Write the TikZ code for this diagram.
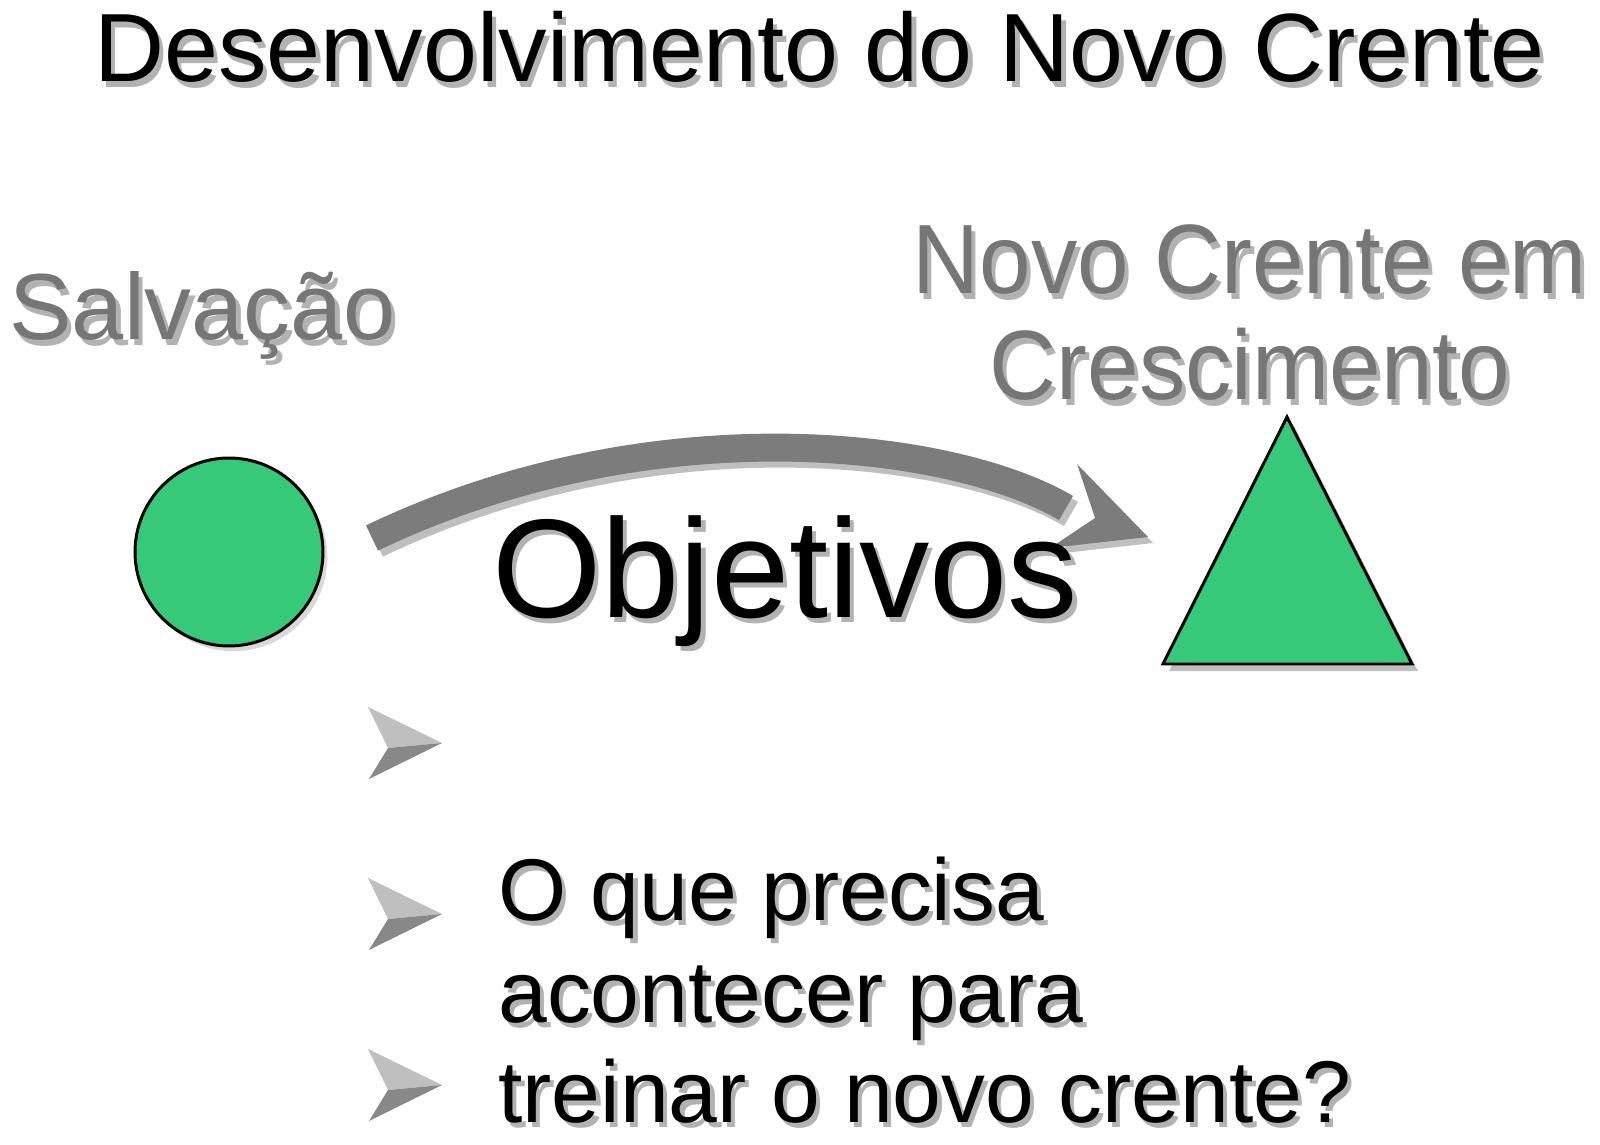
\documentclass[tikz,border=0pt]{standalone}
\usepackage{fontspec}
\setmainfont{Liberation Sans}
\usetikzlibrary{calc, shadows}

\definecolor{verde}{RGB}{55,201,122}
\definecolor{cinzaseta}{RGB}{124,124,124}
\definecolor{cinzatxt}{RGB}{118,118,118}
\newcommand{\fsz}[1]{\fontsize{#1}{#1}\selectfont}
% texto com sombra deslocada
\newcommand{\comsombra}[1]{\leavevmode\rlap{\kern2.4pt\raisebox{-2.9pt}{\color{black!30}#1}}#1}

\begin{document}
\begin{tikzpicture}
      [x=0.02cm, y=-0.02cm
      ,txt/.style={inner sep=0pt, anchor=base west}
      ,txtc/.style={inner sep=0pt, anchor=base}
      ,forma/.style={draw=black, line width=1.7pt, fill=verde}
      ,haste/.style={draw=cinzaseta, line width=15.9pt}
      ,blt1/.style={fill=gray!50}
      ,blt2/.style={fill=gray!90!black!85}
      ]
        \useasboundingbox (0,0) rectangle (1600,1145);

        % titulo
        \node[txt] (titulo) at (94,82) {\fsz{55.2}\comsombra{Desenvolvimento do Novo Crente}};

        % rotulos cinza
        \node[txt, text=cinzatxt] (salvT) at (9,340) {\fsz{53.4}\comsombra{Salvação}};
        \node[txtc, text=cinzatxt] (novoT) at (1250,294) {\scalebox{.94}[1]{\fsz{56.1}\comsombra{Novo Crente em}}};
        \node[txtc, text=cinzatxt] (cresT) at (1250,400) {\scalebox{.94}[1]{\fsz{56.1}\comsombra{Crescimento}}};

        % circulo e triangulo
        \node[forma, circle, minimum size=3.76cm, inner sep=0pt
             ,drop shadow={shadow xshift=2.5pt, shadow yshift=-3pt, opacity=.3}] (salv) at (229,552) {};
        \coordinate (topo) at (1287,417);
        \coordinate (baseE) at (1163,664);
        \coordinate (baseD) at (1412,664);
        \fill[black, opacity=.25] ($(topo)+(6,7)$) -- ($(baseD)+(6,7)$) -- ($(baseE)+(6,7)$) -- cycle;
        \filldraw[forma] (topo) -- (baseD) -- (baseE) -- cycle;

        % seta curva
        \coordinate (setaIni) at (372,538);
        \coordinate (setaFim) at (1066,508);
        \draw[haste, draw=black, opacity=.25] ($(setaIni)+(5,6)$) .. controls (655,411) and (955,446) .. ($(setaFim)+(5,6)$);
        \fill[black, opacity=.25] (1082,470) -- (1153,543) -- (1055,554) -- (1100,524) -- cycle;
        \draw[haste] (setaIni) .. controls (650,405) and (950,440) .. (setaFim);
        \fill[cinzaseta] (1077,464) -- (1148,537) -- (1050,548) -- (1095,518) -- cycle;

        % objetivos
        \node[txt] (obj) at (492,617) {\fsz{80}\comsombra{Objetivos}};

        % marcadores
        \foreach \k in {0,1,2}
        {
            \coordinate (B) at ($ (368,707) + \k*(0,171) $);
            \fill[blt1] (B) -- +(74,36) -- +(20,41) -- cycle;
            \fill[blt2] (B)++(20,41) -- +(54,-5) -- +(-19,31) -- cycle;
        }

        % pergunta
        \foreach \t/\b [count=\i] in {O que precisa/920, acontecer para/1022, treinar o novo crente?/1122}
        {
            \node[txt] (pergunta\i) at (498,\b) {\fsz{49.9}\comsombra{\t}};
        }
       \end{tikzpicture}
\end{document}
